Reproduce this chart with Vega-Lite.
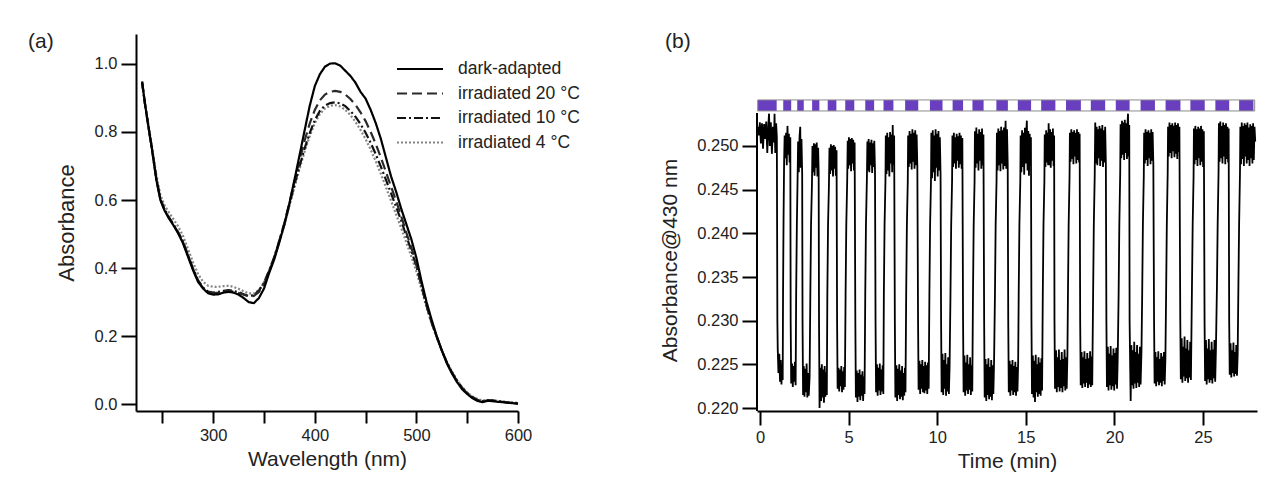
{
"$schema": "https://vega.github.io/schema/vega-lite/v6.json",
"background": "white",
"padding": {"left": 28, "top": 31, "right": 7, "bottom": 10},
"bounds": "flush",
"spacing": 239,
"config": {
  "font": "Liberation Sans",
  "view": {"stroke": null},
  "axis": {"domainColor": "#000", "tickColor": "#000", "domainWidth": 2, "tickWidth": 2, "labelColor": "#222", "titleColor": "#222", "labelFontSize": 16.5, "titleFontSize": 21, "titleFontWeight": "normal", "grid": false, "labelFlush": false, "labelOverlap": false}
},
"hconcat": [
{
  "width": 382, "height": 377,
  "title": {"text": "(a)", "anchor": "start", "frame": "group", "orient": "top", "offset": 0, "baseline": "middle", "dx": -108, "dy": 29, "fontSize": 21, "fontWeight": "normal", "color": "#222"},
  "data": {"values": [
{"w":230,"a":0.948,"b":0.948,"c":0.945,"d":0.945},
{"w":233,"a":0.880,"b":0.880,"c":0.878,"d":0.880},
{"w":236,"a":0.820,"b":0.822,"c":0.820,"d":0.825},
{"w":240,"a":0.745,"b":0.745,"c":0.742,"d":0.752},
{"w":244,"a":0.660,"b":0.665,"c":0.662,"d":0.675},
{"w":248,"a":0.600,"b":0.603,"c":0.602,"d":0.615},
{"w":252,"a":0.570,"b":0.573,"c":0.573,"d":0.585},
{"w":256,"a":0.548,"b":0.550,"c":0.551,"d":0.565},
{"w":260,"a":0.530,"b":0.532,"c":0.533,"d":0.548},
{"w":265,"a":0.505,"b":0.507,"c":0.508,"d":0.525},
{"w":270,"a":0.475,"b":0.478,"c":0.480,"d":0.497},
{"w":275,"a":0.435,"b":0.438,"c":0.440,"d":0.458},
{"w":280,"a":0.395,"b":0.398,"c":0.400,"d":0.418},
{"w":285,"a":0.360,"b":0.362,"c":0.365,"d":0.383},
{"w":290,"a":0.340,"b":0.342,"c":0.343,"d":0.360},
{"w":295,"a":0.326,"b":0.329,"c":0.331,"d":0.348},
{"w":300,"a":0.322,"b":0.326,"c":0.328,"d":0.345},
{"w":305,"a":0.323,"b":0.328,"c":0.330,"d":0.345},
{"w":310,"a":0.328,"b":0.331,"c":0.333,"d":0.347},
{"w":315,"a":0.330,"b":0.333,"c":0.335,"d":0.348},
{"w":320,"a":0.328,"b":0.331,"c":0.333,"d":0.345},
{"w":325,"a":0.322,"b":0.327,"c":0.329,"d":0.339},
{"w":330,"a":0.312,"b":0.322,"c":0.323,"d":0.332},
{"w":335,"a":0.300,"b":0.317,"c":0.318,"d":0.326},
{"w":340,"a":0.297,"b":0.318,"c":0.320,"d":0.325},
{"w":345,"a":0.312,"b":0.330,"c":0.334,"d":0.336},
{"w":350,"a":0.340,"b":0.352,"c":0.357,"d":0.358},
{"w":355,"a":0.385,"b":0.390,"c":0.393,"d":0.392},
{"w":360,"a":0.425,"b":0.430,"c":0.432,"d":0.430},
{"w":365,"a":0.475,"b":0.480,"c":0.480,"d":0.476},
{"w":370,"a":0.528,"b":0.532,"c":0.530,"d":0.525},
{"w":375,"a":0.590,"b":0.592,"c":0.588,"d":0.582},
{"w":380,"a":0.660,"b":0.655,"c":0.645,"d":0.638},
{"w":385,"a":0.732,"b":0.718,"c":0.700,"d":0.692},
{"w":390,"a":0.805,"b":0.775,"c":0.752,"d":0.743},
{"w":395,"a":0.877,"b":0.825,"c":0.797,"d":0.788},
{"w":400,"a":0.935,"b":0.865,"c":0.835,"d":0.826},
{"w":405,"a":0.970,"b":0.893,"c":0.862,"d":0.853},
{"w":410,"a":0.992,"b":0.910,"c":0.878,"d":0.869},
{"w":415,"a":1.001,"b":0.918,"c":0.885,"d":0.877},
{"w":420,"a":1.002,"b":0.921,"c":0.887,"d":0.879},
{"w":425,"a":0.995,"b":0.918,"c":0.884,"d":0.875},
{"w":430,"a":0.980,"b":0.910,"c":0.876,"d":0.865},
{"w":435,"a":0.965,"b":0.897,"c":0.862,"d":0.850},
{"w":440,"a":0.945,"b":0.880,"c":0.845,"d":0.830},
{"w":445,"a":0.918,"b":0.858,"c":0.823,"d":0.806},
{"w":450,"a":0.898,"b":0.832,"c":0.798,"d":0.779},
{"w":455,"a":0.865,"b":0.800,"c":0.768,"d":0.748},
{"w":460,"a":0.826,"b":0.765,"c":0.735,"d":0.714},
{"w":465,"a":0.780,"b":0.725,"c":0.698,"d":0.677},
{"w":470,"a":0.725,"b":0.683,"c":0.660,"d":0.638},
{"w":475,"a":0.670,"b":0.640,"c":0.620,"d":0.598},
{"w":480,"a":0.625,"b":0.598,"c":0.580,"d":0.558},
{"w":485,"a":0.575,"b":0.553,"c":0.540,"d":0.518},
{"w":490,"a":0.530,"b":0.505,"c":0.495,"d":0.476},
{"w":495,"a":0.485,"b":0.460,"c":0.452,"d":0.434},
{"w":500,"a":0.430,"b":0.410,"c":0.405,"d":0.390},
{"w":505,"a":0.362,"b":0.350,"c":0.348,"d":0.338},
{"w":510,"a":0.300,"b":0.290,"c":0.290,"d":0.284},
{"w":515,"a":0.248,"b":0.240,"c":0.240,"d":0.237},
{"w":520,"a":0.200,"b":0.198,"c":0.198,"d":0.196},
{"w":525,"a":0.158,"b":0.158,"c":0.158,"d":0.158},
{"w":530,"a":0.120,"b":0.122,"c":0.123,"d":0.124},
{"w":535,"a":0.090,"b":0.093,"c":0.094,"d":0.096},
{"w":540,"a":0.065,"b":0.068,"c":0.069,"d":0.071},
{"w":545,"a":0.044,"b":0.047,"c":0.048,"d":0.050},
{"w":550,"a":0.030,"b":0.032,"c":0.033,"d":0.035},
{"w":555,"a":0.018,"b":0.020,"c":0.021,"d":0.023},
{"w":560,"a":0.010,"b":0.012,"c":0.013,"d":0.015},
{"w":565,"a":0.006,"b":0.008,"c":0.009,"d":0.011},
{"w":570,"a":0.010,"b":0.011,"c":0.011,"d":0.012},
{"w":575,"a":0.009,"b":0.010,"c":0.011,"d":0.012},
{"w":580,"a":0.007,"b":0.008,"c":0.009,"d":0.010},
{"w":585,"a":0.006,"b":0.007,"c":0.007,"d":0.008},
{"w":590,"a":0.004,"b":0.005,"c":0.005,"d":0.006},
{"w":595,"a":0.003,"b":0.004,"c":0.004,"d":0.005},
{"w":600,"a":0.001,"b":0.002,"c":0.003,"d":0.004}
  ]},
  "transform": [{"fold": ["d", "c", "b", "a"], "as": ["s", "A"]}],
  "mark": {"type": "line", "strokeWidth": 2.2},
  "encoding": {
    "x": {"field": "w", "type": "quantitative", "scale": {"domain": [224, 600], "nice": false, "zero": false},
          "axis": {"values": [250, 300, 350, 400, 450, 500, 550, 600], "labelExpr": "datum.value % 100 == 0 ? datum.label : ''", "title": "Wavelength (nm)", "tickSize": 12, "labelPadding": 4, "titlePadding": 5}},
    "y": {"field": "A", "type": "quantitative", "scale": {"domain": [-0.02, 1.088], "nice": false, "zero": false},
          "axis": {"values": [0, 0.2, 0.4, 0.6, 0.8, 1.0], "format": ".1f", "title": "Absorbance", "titleFontSize": 22, "tickSize": 15, "labelPadding": 4, "titlePadding": 16}},
    "color": {"field": "s", "type": "nominal", "scale": {"domain": ["a", "b", "c", "d"], "range": ["#000000", "#2a2a2a", "#111111", "#858585"]},
              "legend": {"title": null, "orient": "none", "legendX": 271, "legendY": 22, "symbolType": "M-2,0H2", "symbolSize": 529, "symbolStrokeWidth": 2.2, "labelFontSize": 17.5, "labelColor": "#222", "labelOffset": 25, "rowPadding": 2.5, "labelExpr": "datum.label == 'a' ? 'dark-adapted' : datum.label == 'b' ? 'irradiated 20 °C' : datum.label == 'c' ? 'irradiated 10 °C' : 'irradiated 4 °C'"}},
    "strokeDash": {"field": "s", "type": "nominal", "scale": {"domain": ["a", "b", "c", "d"], "range": [[1, 0], [10, 5], [9, 3, 2, 3], [2, 2]]},
              "legend": {"title": null, "orient": "none", "legendX": 271, "legendY": 22, "symbolType": "M-2,0H2", "symbolSize": 529, "symbolStrokeWidth": 2.2, "labelFontSize": 17.5, "labelColor": "#222", "labelOffset": 25, "rowPadding": 2.5, "labelExpr": "datum.label == 'a' ? 'dark-adapted' : datum.label == 'b' ? 'irradiated 20 °C' : datum.label == 'c' ? 'irradiated 10 °C' : 'irradiated 4 °C'"}}
  }
},
{
  "width": 500, "height": 377,
  "title": {"text": "(b)", "anchor": "start", "frame": "group", "orient": "top", "offset": 0, "baseline": "middle", "dx": -92, "dy": 29, "fontSize": 21, "fontWeight": "normal", "color": "#222"},
  "layer": [
    {"data": {"values": [{}]}, "mark": {"type": "rect", "fill": "white"},
     "encoding": {"x": {"datum": -0.13, "type": "quantitative"}, "x2": {"datum": 27.92}, "y": {"datum": 0.25401, "type": "quantitative"}, "y2": {"datum": 0.25527}}},
    {"data": {"values": [
      {"on": -0.13, "off": 0.94}, {"on": 1.31, "off": 1.76}, {"on": 2.10, "off": 2.47}, {"on": 2.94, "off": 3.35},
      {"on": 3.82, "off": 4.31}, {"on": 4.81, "off": 5.32}, {"on": 5.94, "off": 6.44}, {"on": 6.97, "off": 7.53},
      {"on": 8.19, "off": 8.93}, {"on": 9.59, "off": 10.30}, {"on": 10.87, "off": 11.46}, {"on": 11.99, "off": 12.62},
      {"on": 13.34, "off": 13.99}, {"on": 14.55, "off": 15.30}, {"on": 15.87, "off": 16.67}, {"on": 17.27, "off": 18.11},
      {"on": 18.67, "off": 19.48}, {"on": 20.08, "off": 20.86}, {"on": 21.48, "off": 22.29}, {"on": 22.89, "off": 23.73},
      {"on": 24.29, "off": 25.10}, {"on": 25.70, "off": 26.48}, {"on": 27.04, "off": 27.85}
     ]},
     "mark": {"type": "rect", "fill": "#6a3fbf"},
     "encoding": {"x": {"field": "on", "type": "quantitative"}, "x2": {"field": "off"}, "y": {"datum": 0.25401, "type": "quantitative"}, "y2": {"datum": 0.25527}}},
    {"data": {"values": [{}]}, "mark": {"type": "rect", "fill": "white", "fillOpacity": 0, "stroke": "#8c8c8c", "strokeWidth": 1},
     "encoding": {"x": {"datum": -0.13, "type": "quantitative"}, "x2": {"datum": 27.92}, "y": {"datum": 0.25401, "type": "quantitative"}, "y2": {"datum": 0.25527}}},
    {"data": {"values": [{}]}, "mark": {"type": "rule", "color": "#000", "strokeWidth": 2},
     "encoding": {"x": {"datum": -0.17, "type": "quantitative"}, "y": {"datum": 0.21966, "type": "quantitative"}, "y2": {"datum": 0.25378}}},
    {"data": {"values": [
{"t":-0.12,"a":0.2522},{"t":-0.06,"a":0.2512},{"t":-0.01,"a":0.2527},{"t":0.05,"a":0.2503},{"t":0.11,"a":0.2526},{"t":0.17,"a":0.2497},{"t":0.23,"a":0.2525},{"t":0.29,"a":0.2508},{"t":0.35,"a":0.2528},{"t":0.41,"a":0.2492},{"t":0.47,"a":0.2524},{"t":0.51,"a":0.2537},{"t":0.55,"a":0.2500},{"t":0.61,"a":0.2527},{"t":0.67,"a":0.2491},{"t":0.73,"a":0.2522},{"t":0.79,"a":0.2504},{"t":0.82,"a":0.2537},{"t":0.86,"a":0.2492},{"t":0.91,"a":0.2526},{"t":0.95,"a":0.2510},
{"t":0.98,"a":0.2300},
{"t":1.00,"a":0.2268},{"t":1.04,"a":0.2240},{"t":1.09,"a":0.2262},{"t":1.13,"a":0.2230},{"t":1.17,"a":0.2255},{"t":1.21,"a":0.2227},{"t":1.25,"a":0.2250},{"t":1.28,"a":0.2232},
{"t":1.30,"a":0.2330},{"t":1.33,"a":0.2420},
{"t":1.36,"a":0.2482},{"t":1.39,"a":0.2512},{"t":1.43,"a":0.2486},{"t":1.47,"a":0.2515},{"t":1.51,"a":0.2478},{"t":1.55,"a":0.2523},{"t":1.59,"a":0.2490},{"t":1.63,"a":0.2514},{"t":1.67,"a":0.2481},{"t":1.71,"a":0.2510},
{"t":1.73,"a":0.2300},
{"t":1.76,"a":0.2228},{"t":1.81,"a":0.2251},{"t":1.85,"a":0.2224},{"t":1.89,"a":0.2248},{"t":1.93,"a":0.2230},{"t":1.97,"a":0.2253},{"t":2.01,"a":0.2226},
{"t":2.04,"a":0.2330},{"t":2.08,"a":0.2410},{"t":2.12,"a":0.2462},
{"t":2.15,"a":0.2505},{"t":2.19,"a":0.2470},{"t":2.23,"a":0.2510},{"t":2.27,"a":0.2522},{"t":2.30,"a":0.2475},{"t":2.34,"a":0.2508},{"t":2.38,"a":0.2468},
{"t":2.40,"a":0.2300},
{"t":2.43,"a":0.2215},{"t":2.47,"a":0.2248},{"t":2.51,"a":0.2213},{"t":2.55,"a":0.2245},{"t":2.59,"a":0.2218},{"t":2.63,"a":0.2251},{"t":2.67,"a":0.2212},{"t":2.71,"a":0.2240},{"t":2.75,"a":0.2214},{"t":2.80,"a":0.2236},
{"t":2.84,"a":0.2330},{"t":2.88,"a":0.2410},{"t":2.93,"a":0.2455},
{"t":2.96,"a":0.2500},{"t":3.00,"a":0.2470},{"t":3.04,"a":0.2503},{"t":3.08,"a":0.2466},{"t":3.12,"a":0.2502},{"t":3.16,"a":0.2475},{"t":3.20,"a":0.2504},{"t":3.24,"a":0.2465},{"t":3.28,"a":0.2498},{"t":3.31,"a":0.2470},
{"t":3.33,"a":0.2300},
{"t":3.36,"a":0.2200},{"t":3.41,"a":0.2246},{"t":3.45,"a":0.2208},{"t":3.49,"a":0.2250},{"t":3.53,"a":0.2212},{"t":3.57,"a":0.2244},{"t":3.61,"a":0.2206},{"t":3.65,"a":0.2248},{"t":3.69,"a":0.2213},{"t":3.73,"a":0.2241},{"t":3.77,"a":0.2215},
{"t":3.80,"a":0.2330},{"t":3.84,"a":0.2410},{"t":3.89,"a":0.2455},
{"t":3.92,"a":0.2498},{"t":3.96,"a":0.2468},{"t":4.00,"a":0.2502},{"t":4.04,"a":0.2472},{"t":4.08,"a":0.2500},{"t":4.12,"a":0.2465},{"t":4.16,"a":0.2501},{"t":4.20,"a":0.2474},{"t":4.24,"a":0.2499},{"t":4.28,"a":0.2466},{"t":4.32,"a":0.2495},
{"t":4.35,"a":0.2300},
{"t":4.38,"a":0.2222},{"t":4.43,"a":0.2246},{"t":4.47,"a":0.2219},{"t":4.51,"a":0.2244},{"t":4.55,"a":0.2225},{"t":4.59,"a":0.2248},{"t":4.63,"a":0.2218},{"t":4.67,"a":0.2242},{"t":4.71,"a":0.2221},{"t":4.75,"a":0.2247},{"t":4.79,"a":0.2224},
{"t":4.83,"a":0.2330},{"t":4.87,"a":0.2410},{"t":4.92,"a":0.2460},
{"t":4.95,"a":0.2506},{"t":4.98,"a":0.2474},{"t":5.02,"a":0.2510},{"t":5.06,"a":0.2478},{"t":5.10,"a":0.2508},{"t":5.14,"a":0.2471},{"t":5.18,"a":0.2509},{"t":5.22,"a":0.2480},{"t":5.26,"a":0.2507},{"t":5.30,"a":0.2472},{"t":5.34,"a":0.2504},
{"t":5.38,"a":0.2300},
{"t":5.41,"a":0.2212},{"t":5.46,"a":0.2243},{"t":5.50,"a":0.2207},{"t":5.54,"a":0.2240},{"t":5.58,"a":0.2213},{"t":5.62,"a":0.2244},{"t":5.66,"a":0.2209},{"t":5.70,"a":0.2238},{"t":5.74,"a":0.2214},{"t":5.78,"a":0.2242},{"t":5.82,"a":0.2208},{"t":5.86,"a":0.2236},{"t":5.90,"a":0.2216},
{"t":5.94,"a":0.2330},{"t":5.98,"a":0.2410},{"t":6.03,"a":0.2460},
{"t":6.06,"a":0.2505},{"t":6.09,"a":0.2472},{"t":6.13,"a":0.2508},{"t":6.17,"a":0.2470},{"t":6.21,"a":0.2504},{"t":6.25,"a":0.2478},{"t":6.29,"a":0.2507},{"t":6.33,"a":0.2469},{"t":6.37,"a":0.2503},{"t":6.41,"a":0.2476},{"t":6.45,"a":0.2506},{"t":6.49,"a":0.2471},
{"t":6.52,"a":0.2300},
{"t":6.55,"a":0.2218},{"t":6.60,"a":0.2250},{"t":6.64,"a":0.2214},{"t":6.68,"a":0.2246},{"t":6.72,"a":0.2220},{"t":6.76,"a":0.2251},{"t":6.80,"a":0.2215},{"t":6.84,"a":0.2244},{"t":6.88,"a":0.2219},{"t":6.92,"a":0.2249},{"t":6.96,"a":0.2216},
{"t":6.99,"a":0.2330},{"t":7.03,"a":0.2410},{"t":7.08,"a":0.2460},
{"t":7.10,"a":0.2512},{"t":7.14,"a":0.2468},{"t":7.18,"a":0.2515},{"t":7.22,"a":0.2472},{"t":7.26,"a":0.2510},{"t":7.30,"a":0.2465},{"t":7.34,"a":0.2516},{"t":7.38,"a":0.2480},{"t":7.42,"a":0.2513},{"t":7.46,"a":0.2470},{"t":7.49,"a":0.2524},{"t":7.53,"a":0.2478},{"t":7.57,"a":0.2512},
{"t":7.61,"a":0.2300},
{"t":7.64,"a":0.2212},{"t":7.70,"a":0.2249},{"t":7.74,"a":0.2208},{"t":7.78,"a":0.2245},{"t":7.82,"a":0.2215},{"t":7.86,"a":0.2250},{"t":7.90,"a":0.2210},{"t":7.94,"a":0.2243},{"t":7.98,"a":0.2213},{"t":8.02,"a":0.2248},{"t":8.06,"a":0.2209},{"t":8.10,"a":0.2240},{"t":8.14,"a":0.2214},{"t":8.18,"a":0.2246},{"t":8.21,"a":0.2218},
{"t":8.25,"a":0.2330},{"t":8.29,"a":0.2410},{"t":8.34,"a":0.2460},
{"t":8.36,"a":0.2512},{"t":8.40,"a":0.2476},{"t":8.44,"a":0.2517},{"t":8.48,"a":0.2480},{"t":8.52,"a":0.2514},{"t":8.56,"a":0.2473},{"t":8.60,"a":0.2519},{"t":8.64,"a":0.2482},{"t":8.68,"a":0.2515},{"t":8.72,"a":0.2474},{"t":8.76,"a":0.2518},{"t":8.80,"a":0.2478},{"t":8.84,"a":0.2513},{"t":8.88,"a":0.2476},
{"t":8.92,"a":0.2300},
{"t":8.95,"a":0.2221},{"t":9.00,"a":0.2254},{"t":9.04,"a":0.2216},{"t":9.08,"a":0.2250},{"t":9.12,"a":0.2222},{"t":9.16,"a":0.2255},{"t":9.20,"a":0.2218},{"t":9.24,"a":0.2248},{"t":9.28,"a":0.2217},{"t":9.32,"a":0.2253},{"t":9.36,"a":0.2220},{"t":9.40,"a":0.2249},{"t":9.44,"a":0.2216},{"t":9.48,"a":0.2252},{"t":9.52,"a":0.2222},
{"t":9.56,"a":0.2330},{"t":9.60,"a":0.2410},{"t":9.65,"a":0.2460},
{"t":9.67,"a":0.2515},{"t":9.71,"a":0.2463},{"t":9.75,"a":0.2518},{"t":9.79,"a":0.2470},{"t":9.83,"a":0.2512},{"t":9.87,"a":0.2460},{"t":9.91,"a":0.2519},{"t":9.95,"a":0.2475},{"t":9.99,"a":0.2514},{"t":10.03,"a":0.2465},{"t":10.07,"a":0.2517},{"t":10.11,"a":0.2472},{"t":10.15,"a":0.2510},{"t":10.19,"a":0.2468},
{"t":10.22,"a":0.2300},
{"t":10.25,"a":0.2218},{"t":10.30,"a":0.2262},{"t":10.34,"a":0.2215},{"t":10.38,"a":0.2255},{"t":10.42,"a":0.2222},{"t":10.46,"a":0.2263},{"t":10.50,"a":0.2214},{"t":10.54,"a":0.2250},{"t":10.58,"a":0.2219},{"t":10.62,"a":0.2258},{"t":10.66,"a":0.2216},{"t":10.70,"a":0.2248},
{"t":10.75,"a":0.2330},{"t":10.79,"a":0.2410},{"t":10.84,"a":0.2460},
{"t":10.86,"a":0.2512},{"t":10.90,"a":0.2476},{"t":10.94,"a":0.2515},{"t":10.98,"a":0.2480},{"t":11.02,"a":0.2510},{"t":11.06,"a":0.2474},{"t":11.10,"a":0.2514},{"t":11.14,"a":0.2483},{"t":11.18,"a":0.2511},{"t":11.22,"a":0.2475},{"t":11.26,"a":0.2515},{"t":11.30,"a":0.2479},{"t":11.34,"a":0.2512},{"t":11.38,"a":0.2474},{"t":11.42,"a":0.2509},
{"t":11.46,"a":0.2300},
{"t":11.49,"a":0.2218},{"t":11.54,"a":0.2260},{"t":11.58,"a":0.2214},{"t":11.62,"a":0.2252},{"t":11.66,"a":0.2220},{"t":11.70,"a":0.2261},{"t":11.74,"a":0.2216},{"t":11.78,"a":0.2250},{"t":11.82,"a":0.2221},{"t":11.86,"a":0.2258},{"t":11.90,"a":0.2215},{"t":11.94,"a":0.2249},{"t":11.98,"a":0.2219},
{"t":12.02,"a":0.2330},{"t":12.06,"a":0.2410},{"t":12.11,"a":0.2460},
{"t":12.13,"a":0.2517},{"t":12.17,"a":0.2475},{"t":12.21,"a":0.2521},{"t":12.25,"a":0.2480},{"t":12.29,"a":0.2514},{"t":12.33,"a":0.2472},{"t":12.37,"a":0.2519},{"t":12.41,"a":0.2483},{"t":12.45,"a":0.2516},{"t":12.49,"a":0.2474},{"t":12.53,"a":0.2520},{"t":12.57,"a":0.2478},{"t":12.61,"a":0.2513},
{"t":12.65,"a":0.2300},
{"t":12.68,"a":0.2212},{"t":12.73,"a":0.2256},{"t":12.77,"a":0.2208},{"t":12.81,"a":0.2250},{"t":12.85,"a":0.2215},{"t":12.89,"a":0.2257},{"t":12.93,"a":0.2210},{"t":12.97,"a":0.2247},{"t":13.01,"a":0.2213},{"t":13.05,"a":0.2255},{"t":13.09,"a":0.2209},{"t":13.13,"a":0.2249},{"t":13.17,"a":0.2216},{"t":13.21,"a":0.2253},
{"t":13.26,"a":0.2330},{"t":13.30,"a":0.2410},{"t":13.35,"a":0.2460},
{"t":13.37,"a":0.2515},{"t":13.41,"a":0.2472},{"t":13.45,"a":0.2520},{"t":13.49,"a":0.2478},{"t":13.53,"a":0.2517},{"t":13.57,"a":0.2471},{"t":13.61,"a":0.2522},{"t":13.65,"a":0.2480},{"t":13.69,"a":0.2518},{"t":13.73,"a":0.2473},{"t":13.77,"a":0.2521},{"t":13.81,"a":0.2477},{"t":13.86,"a":0.2529},{"t":13.90,"a":0.2474},{"t":13.94,"a":0.2519},{"t":13.98,"a":0.2479},
{"t":14.01,"a":0.2300},
{"t":14.04,"a":0.2218},{"t":14.09,"a":0.2254},{"t":14.13,"a":0.2214},{"t":14.17,"a":0.2250},{"t":14.21,"a":0.2220},{"t":14.25,"a":0.2255},{"t":14.29,"a":0.2215},{"t":14.33,"a":0.2248},{"t":14.37,"a":0.2218},{"t":14.41,"a":0.2253},{"t":14.45,"a":0.2214},{"t":14.49,"a":0.2247},{"t":14.53,"a":0.2219},{"t":14.57,"a":0.2252},
{"t":14.60,"a":0.2330},{"t":14.64,"a":0.2410},{"t":14.69,"a":0.2460},
{"t":14.71,"a":0.2512},{"t":14.75,"a":0.2470},{"t":14.79,"a":0.2518},{"t":14.83,"a":0.2476},{"t":14.87,"a":0.2515},{"t":14.91,"a":0.2467},{"t":14.95,"a":0.2521},{"t":14.99,"a":0.2480},{"t":15.03,"a":0.2516},{"t":15.06,"a":0.2529},{"t":15.10,"a":0.2472},{"t":15.14,"a":0.2517},{"t":15.18,"a":0.2466},{"t":15.22,"a":0.2514},{"t":15.26,"a":0.2478},{"t":15.29,"a":0.2510},
{"t":15.32,"a":0.2300},
{"t":15.35,"a":0.2216},{"t":15.40,"a":0.2260},{"t":15.44,"a":0.2212},{"t":15.48,"a":0.2254},{"t":15.52,"a":0.2207},{"t":15.56,"a":0.2261},{"t":15.60,"a":0.2218},{"t":15.64,"a":0.2250},{"t":15.68,"a":0.2213},{"t":15.72,"a":0.2258},{"t":15.76,"a":0.2216},{"t":15.80,"a":0.2252},{"t":15.84,"a":0.2214},{"t":15.88,"a":0.2257},{"t":15.92,"a":0.2220},
{"t":15.96,"a":0.2330},{"t":16.00,"a":0.2410},{"t":16.05,"a":0.2460},
{"t":16.07,"a":0.2513},{"t":16.11,"a":0.2476},{"t":16.15,"a":0.2518},{"t":16.19,"a":0.2481},{"t":16.23,"a":0.2515},{"t":16.26,"a":0.2478},{"t":16.29,"a":0.2526},{"t":16.33,"a":0.2478},{"t":16.37,"a":0.2519},{"t":16.41,"a":0.2475},{"t":16.45,"a":0.2516},{"t":16.49,"a":0.2483},{"t":16.53,"a":0.2520},{"t":16.57,"a":0.2477},{"t":16.60,"a":0.2512},
{"t":16.62,"a":0.2300},
{"t":16.65,"a":0.2222},{"t":16.71,"a":0.2266},{"t":16.75,"a":0.2218},{"t":16.79,"a":0.2258},{"t":16.83,"a":0.2224},{"t":16.87,"a":0.2267},{"t":16.91,"a":0.2219},{"t":16.95,"a":0.2255},{"t":16.99,"a":0.2223},{"t":17.03,"a":0.2264},{"t":17.07,"a":0.2218},{"t":17.11,"a":0.2256},{"t":17.15,"a":0.2225},{"t":17.19,"a":0.2267},{"t":17.23,"a":0.2220},{"t":17.27,"a":0.2258},{"t":17.31,"a":0.2222},{"t":17.35,"a":0.2262},
{"t":17.38,"a":0.2330},{"t":17.42,"a":0.2410},{"t":17.47,"a":0.2465},
{"t":17.49,"a":0.2515},{"t":17.53,"a":0.2482},{"t":17.57,"a":0.2519},{"t":17.61,"a":0.2485},{"t":17.65,"a":0.2516},{"t":17.69,"a":0.2479},{"t":17.73,"a":0.2518},{"t":17.77,"a":0.2488},{"t":17.81,"a":0.2515},{"t":17.85,"a":0.2480},{"t":17.89,"a":0.2519},{"t":17.93,"a":0.2484},{"t":17.97,"a":0.2516},{"t":18.01,"a":0.2481},{"t":18.04,"a":0.2514},
{"t":18.07,"a":0.2300},
{"t":18.10,"a":0.2226},{"t":18.15,"a":0.2264},{"t":18.19,"a":0.2223},{"t":18.23,"a":0.2258},{"t":18.27,"a":0.2228},{"t":18.31,"a":0.2265},{"t":18.35,"a":0.2224},{"t":18.39,"a":0.2256},{"t":18.43,"a":0.2229},{"t":18.47,"a":0.2263},{"t":18.51,"a":0.2223},{"t":18.55,"a":0.2257},{"t":18.59,"a":0.2227},{"t":18.63,"a":0.2265},{"t":18.67,"a":0.2224},{"t":18.71,"a":0.2259},{"t":18.75,"a":0.2226},
{"t":18.80,"a":0.2330},{"t":18.84,"a":0.2410},{"t":18.89,"a":0.2465},
{"t":18.92,"a":0.2527},{"t":18.96,"a":0.2480},{"t":19.00,"a":0.2522},{"t":19.04,"a":0.2478},{"t":19.08,"a":0.2519},{"t":19.12,"a":0.2486},{"t":19.16,"a":0.2523},{"t":19.20,"a":0.2477},{"t":19.24,"a":0.2520},{"t":19.28,"a":0.2483},{"t":19.32,"a":0.2524},{"t":19.36,"a":0.2476},{"t":19.40,"a":0.2518},{"t":19.44,"a":0.2481},{"t":19.48,"a":0.2522},{"t":19.52,"a":0.2479},
{"t":19.55,"a":0.2300},
{"t":19.58,"a":0.2224},{"t":19.63,"a":0.2270},{"t":19.67,"a":0.2220},{"t":19.71,"a":0.2262},{"t":19.75,"a":0.2226},{"t":19.79,"a":0.2271},{"t":19.83,"a":0.2221},{"t":19.87,"a":0.2260},{"t":19.91,"a":0.2225},{"t":19.95,"a":0.2268},{"t":19.99,"a":0.2220},{"t":20.03,"a":0.2263},{"t":20.07,"a":0.2227},{"t":20.11,"a":0.2269},{"t":20.15,"a":0.2222},{"t":20.19,"a":0.2258},
{"t":20.24,"a":0.2330},{"t":20.28,"a":0.2410},{"t":20.33,"a":0.2470},
{"t":20.35,"a":0.2525},{"t":20.39,"a":0.2486},{"t":20.43,"a":0.2529},{"t":20.47,"a":0.2490},{"t":20.51,"a":0.2527},{"t":20.55,"a":0.2484},{"t":20.59,"a":0.2530},{"t":20.63,"a":0.2492},{"t":20.67,"a":0.2526},{"t":20.71,"a":0.2485},{"t":20.74,"a":0.2524},{"t":20.77,"a":0.2537},{"t":20.81,"a":0.2488},{"t":20.84,"a":0.2524},
{"t":20.86,"a":0.2300},
{"t":20.89,"a":0.2250},{"t":20.92,"a":0.2208},{"t":20.96,"a":0.2272},{"t":21.00,"a":0.2226},{"t":21.04,"a":0.2266},{"t":21.08,"a":0.2222},{"t":21.12,"a":0.2276},{"t":21.16,"a":0.2228},{"t":21.20,"a":0.2264},{"t":21.24,"a":0.2223},{"t":21.28,"a":0.2272},{"t":21.32,"a":0.2229},{"t":21.36,"a":0.2262},{"t":21.40,"a":0.2224},{"t":21.44,"a":0.2270},{"t":21.48,"a":0.2227},{"t":21.53,"a":0.2265},
{"t":21.57,"a":0.2330},{"t":21.61,"a":0.2410},{"t":21.66,"a":0.2465},
{"t":21.68,"a":0.2515},{"t":21.72,"a":0.2480},{"t":21.76,"a":0.2519},{"t":21.80,"a":0.2484},{"t":21.84,"a":0.2516},{"t":21.88,"a":0.2477},{"t":21.92,"a":0.2518},{"t":21.96,"a":0.2486},{"t":22.00,"a":0.2515},{"t":22.04,"a":0.2479},{"t":22.08,"a":0.2519},{"t":22.12,"a":0.2483},{"t":22.16,"a":0.2516},{"t":22.20,"a":0.2478},
{"t":22.24,"a":0.2300},
{"t":22.27,"a":0.2228},{"t":22.32,"a":0.2264},{"t":22.36,"a":0.2225},{"t":22.40,"a":0.2258},{"t":22.44,"a":0.2230},{"t":22.48,"a":0.2265},{"t":22.52,"a":0.2226},{"t":22.56,"a":0.2256},{"t":22.60,"a":0.2229},{"t":22.64,"a":0.2263},{"t":22.68,"a":0.2225},{"t":22.72,"a":0.2259},{"t":22.76,"a":0.2231},{"t":22.80,"a":0.2264},{"t":22.84,"a":0.2227},{"t":22.88,"a":0.2257},
{"t":22.92,"a":0.2330},{"t":22.96,"a":0.2410},{"t":23.01,"a":0.2470},
{"t":23.03,"a":0.2522},{"t":23.07,"a":0.2488},{"t":23.11,"a":0.2527},{"t":23.15,"a":0.2492},{"t":23.19,"a":0.2524},{"t":23.23,"a":0.2486},{"t":23.27,"a":0.2526},{"t":23.31,"a":0.2494},{"t":23.35,"a":0.2523},{"t":23.39,"a":0.2487},{"t":23.43,"a":0.2527},{"t":23.47,"a":0.2491},{"t":23.51,"a":0.2524},{"t":23.55,"a":0.2485},{"t":23.59,"a":0.2526},{"t":23.63,"a":0.2493},{"t":23.67,"a":0.2522},
{"t":23.72,"a":0.2300},
{"t":23.75,"a":0.2233},{"t":23.80,"a":0.2280},{"t":23.84,"a":0.2229},{"t":23.88,"a":0.2270},{"t":23.92,"a":0.2236},{"t":23.96,"a":0.2282},{"t":24.00,"a":0.2231},{"t":24.04,"a":0.2268},{"t":24.08,"a":0.2234},{"t":24.12,"a":0.2278},{"t":24.16,"a":0.2229},{"t":24.20,"a":0.2266},{"t":24.24,"a":0.2235},{"t":24.28,"a":0.2276},{"t":24.32,"a":0.2232},
{"t":24.38,"a":0.2340},{"t":24.42,"a":0.2410},{"t":24.47,"a":0.2465},
{"t":24.49,"a":0.2520},{"t":24.53,"a":0.2479},{"t":24.57,"a":0.2523},{"t":24.61,"a":0.2484},{"t":24.65,"a":0.2519},{"t":24.69,"a":0.2477},{"t":24.73,"a":0.2522},{"t":24.77,"a":0.2486},{"t":24.81,"a":0.2520},{"t":24.85,"a":0.2478},{"t":24.89,"a":0.2523},{"t":24.93,"a":0.2482},{"t":24.97,"a":0.2519},{"t":25.01,"a":0.2476},{"t":25.05,"a":0.2517},
{"t":25.09,"a":0.2300},
{"t":25.12,"a":0.2231},{"t":25.17,"a":0.2278},{"t":25.21,"a":0.2227},{"t":25.25,"a":0.2268},{"t":25.29,"a":0.2233},{"t":25.33,"a":0.2279},{"t":25.37,"a":0.2229},{"t":25.41,"a":0.2266},{"t":25.45,"a":0.2232},{"t":25.49,"a":0.2276},{"t":25.53,"a":0.2228},{"t":25.57,"a":0.2267},{"t":25.61,"a":0.2234},{"t":25.65,"a":0.2278},{"t":25.69,"a":0.2230},{"t":25.73,"a":0.2265},
{"t":25.79,"a":0.2340},{"t":25.83,"a":0.2410},{"t":25.88,"a":0.2470},
{"t":25.90,"a":0.2526},{"t":25.94,"a":0.2482},{"t":25.98,"a":0.2528},{"t":26.02,"a":0.2486},{"t":26.06,"a":0.2523},{"t":26.10,"a":0.2480},{"t":26.14,"a":0.2527},{"t":26.18,"a":0.2488},{"t":26.22,"a":0.2524},{"t":26.26,"a":0.2479},{"t":26.30,"a":0.2526},{"t":26.34,"a":0.2485},{"t":26.38,"a":0.2522},{"t":26.42,"a":0.2481},{"t":26.45,"a":0.2520},
{"t":26.48,"a":0.2300},
{"t":26.51,"a":0.2238},{"t":26.56,"a":0.2274},{"t":26.60,"a":0.2235},{"t":26.64,"a":0.2266},{"t":26.68,"a":0.2240},{"t":26.72,"a":0.2275},{"t":26.76,"a":0.2236},{"t":26.80,"a":0.2264},{"t":26.84,"a":0.2239},{"t":26.88,"a":0.2272},{"t":26.92,"a":0.2237},{"t":26.96,"a":0.2262},
{"t":27.00,"a":0.2340},{"t":27.04,"a":0.2410},{"t":27.09,"a":0.2470},
{"t":27.11,"a":0.2522},{"t":27.15,"a":0.2479},{"t":27.19,"a":0.2527},{"t":27.23,"a":0.2485},{"t":27.27,"a":0.2523},{"t":27.31,"a":0.2477},{"t":27.35,"a":0.2526},{"t":27.39,"a":0.2488},{"t":27.43,"a":0.2524},{"t":27.47,"a":0.2480},{"t":27.51,"a":0.2527},{"t":27.55,"a":0.2484},{"t":27.59,"a":0.2521},{"t":27.63,"a":0.2477},{"t":27.67,"a":0.2525},{"t":27.71,"a":0.2486},{"t":27.75,"a":0.2523},{"t":27.79,"a":0.2480},{"t":27.83,"a":0.2526},{"t":27.87,"a":0.2484},{"t":27.91,"a":0.2522},{"t":27.95,"a":0.2505}
     ]},
     "mark": {"type": "line", "color": "#000", "strokeWidth": 1.8},
     "encoding": {
       "x": {"field": "t", "type": "quantitative", "scale": {"domain": [-0.17, 28.05], "nice": false, "zero": false},
             "axis": {"values": [0, 5, 10, 15, 20, 25], "title": "Time (min)", "tickSize": 14, "labelPadding": 4, "titlePadding": 5}},
       "y": {"field": "a", "type": "quantitative", "scale": {"domain": [0.21966, 0.26282], "nice": false, "zero": false},
             "axis": {"values": [0.22, 0.225, 0.23, 0.235, 0.24, 0.245, 0.25], "format": ".3f", "domain": false, "title": "Absorbance@430 nm", "titleY": 226, "tickSize": 15, "labelPadding": 4, "titlePadding": 16}}
     }}
  ]
}
]
}
